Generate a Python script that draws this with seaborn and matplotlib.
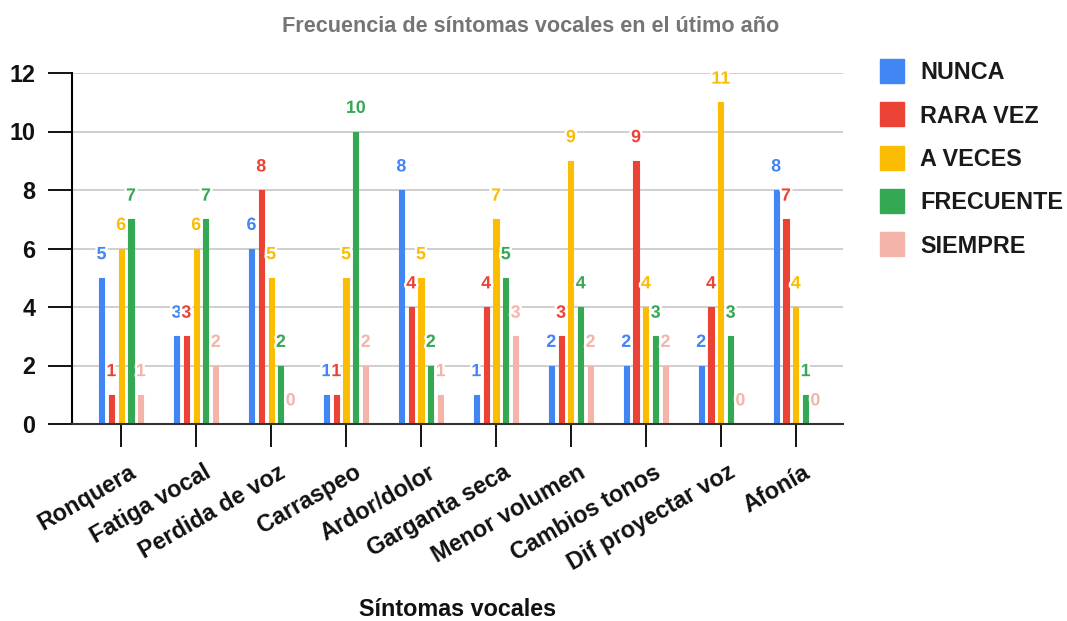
import matplotlib
matplotlib.use("Agg")
import matplotlib.pyplot as plt
import matplotlib.transforms as mtransforms
import matplotlib.patheffects as pe
from matplotlib.lines import Line2D
import numpy as np
import pandas as pd
import seaborn as sns

# Symptom categories and answer frequencies
sintomas = ["Ronquera", "Fatiga vocal", "Perdida de voz", "Carraspeo", "Ardor/dolor",
            "Garganta seca", "Menor volumen", "Cambios tonos", "Dif proyectar voz", "Afonía"]
frecuencias = ["NUNCA", "RARA VEZ", "A VECES", "FRECUENTE", "SIEMPRE"]

nunca = [5, 3, 6, 1, 8, 1, 2, 2, 2, 8]
rara_vez = [1, 3, 8, 1, 4, 4, 3, 9, 4, 7]
a_veces = [6, 6, 5, 5, 5, 7, 9, 4, 11, 4]
frecuente = [7, 7, 2, 10, 2, 5, 4, 3, 3, 1]
siempre = [1, 2, 0, 2, 1, 3, 2, 2, 0, 0]

colores = ["#4285F4", "#EA4335", "#FBBC04", "#34A853", "#F4B4AA"]

series = [nunca, rara_vez, a_veces, frecuente, siempre]
df = pd.DataFrame({
    "sintoma": np.tile(sintomas, len(frecuencias)),
    "frecuencia": np.repeat(frecuencias, len(sintomas)),
    "valor": np.concatenate(series),
})

sns.set_theme(style="white")
plt.rcParams["font.family"] = ["Liberation Sans", "DejaVu Sans"]

fig = plt.figure(figsize=(10.67, 6.21), dpi=100)
ax = fig.add_axes([72 / 1067, 1 - 424 / 621, (843 - 72) / 1067, (424 - 73) / 621])

sns.barplot(data=df, x="sintoma", y="valor", hue="frecuencia", order=sintomas,
            hue_order=frecuencias, palette=colores, width=0.655, gap=0.48,
            errorbar=None, legend=False, ax=ax, zorder=3, saturation=1)

# slightly rounded bar ends
for cont, col in zip(ax.containers, colores):
    for bar in cont:
        bar.set_edgecolor(col)
        bar.set_linewidth(0.8)
        bar.set_joinstyle("round")

halo = [pe.withStroke(linewidth=3.5, foreground="white")]
for cont, col in zip(ax.containers, colores):
    ax.bar_label(cont, fmt="%d", padding=10.5, color=col, fontsize=12.8,
                 fontweight="bold", path_effects=halo, zorder=5)

ax.set_ylim(0, 12)
ax.set_xlim(-0.656, 9.63)
ax.set_yticks(range(0, 13, 2))
ax.yaxis.grid(True, color="#cccccc", linewidth=1.3, zorder=0)
ax.xaxis.grid(False)

for side in ["top", "right"]:
    ax.spines[side].set_visible(False)
ax.spines["left"].set_color("black")
ax.spines["left"].set_linewidth(1.5)
ax.spines["bottom"].set_color("#333333")
ax.spines["bottom"].set_linewidth(1.5)
ax.spines["bottom"].set_zorder(4)

ax.tick_params(axis="y", which="major", length=17.3, width=1.3, color="black",
               pad=9, labelsize=16.8, left=True)
ax.tick_params(axis="x", which="major", length=16.5, width=1.3, color="black",
               pad=10, labelsize=16.8, bottom=True)
for lab in ax.get_yticklabels():
    lab.set_fontweight("bold")
    lab.set_color("#111111")

shift = mtransforms.ScaledTranslation(7 / 100, 0, fig.dpi_scale_trans)
for lab in ax.get_xticklabels():
    lab.set_rotation(30)
    lab.set_ha("right")
    lab.set_va("top")
    lab.set_rotation_mode("anchor")
    lab.set_fontweight("bold")
    lab.set_color("#111111")
    lab.set_transform(lab.get_transform() + shift)

ax.set_ylabel("")
ax.set_xlabel("Síntomas vocales", fontsize=16.8, fontweight="bold", color="#111111")
ax.xaxis.set_label_coords(0.5, -(609 - 424) / (424 - 73), transform=ax.transAxes)
ax.xaxis.label.set_va("center")

fig.text(531 / 1067, 1 - 27 / 621, "Frecuencia de síntomas vocales en el útimo año",
         ha="center", va="center", fontsize=15.6, fontweight="bold", color="#757575")

handles = [Line2D([], [], marker="s", linestyle="none", markersize=17.3,
                  markerfacecolor=c, markeredgecolor=c) for c in colores]
leg = fig.legend(handles, frecuencias, loc="upper left",
                 bbox_to_anchor=(871 / 1067, 1 - 52 / 621), frameon=False,
                 prop={"size": 16.8, "weight": "bold"}, labelspacing=0.87,
                 handlelength=1.0, handletextpad=0.7, borderaxespad=0)
for t in leg.get_texts():
    t.set_color("#1a1a1a")

fig.savefig("out.png", dpi=100)
